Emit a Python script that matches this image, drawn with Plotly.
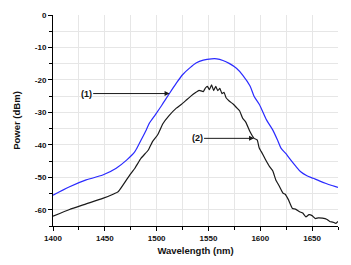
import plotly.graph_objects as go

# Curve (1) - blue
wl_1 = [1400, 1416, 1432, 1448, 1461, 1471, 1479, 1485, 1490, 1493, 1499, 1505, 1512.5,
        1519, 1525, 1532, 1538, 1545, 1553, 1558, 1564, 1570, 1577, 1583, 1590, 1594,
        1599, 1606, 1612, 1617, 1620, 1625, 1628, 1634, 1639, 1645, 1651, 1657, 1663.5,
        1670, 1675]
pw_1 = [-55.5, -52.9, -50.8, -49.3, -47.2, -44.7, -42.1, -38.5, -35.4, -33.3, -30.6, -27.8, -24.1,
        -21.0, -18.4, -16.3, -14.8, -13.9, -13.5, -13.5, -14.0, -14.9, -16.4, -18.5, -21.8, -25.0,
        -27.5, -32.3, -35.4, -38.8, -41.0, -42.8, -44.1, -46.5, -48.3, -49.5, -50.3, -51.1, -51.9,
        -52.6, -53.1]

# Curve (2) - black
wl_2 = [1400, 1416, 1432, 1448, 1458, 1463, 1467.5, 1474, 1479, 1485, 1492, 1496, 1501,
        1506, 1512, 1519, 1524, 1529, 1533, 1538, 1541, 1545, 1547, 1549, 1551, 1553,
        1555, 1557, 1559, 1561, 1563, 1565, 1567, 1570, 1574, 1577, 1580, 1583, 1586,
        1590, 1594, 1597, 1599, 1601, 1605, 1609, 1612, 1615, 1618, 1622, 1624, 1627,
        1631, 1634, 1638, 1641, 1644, 1647, 1650, 1653, 1656, 1660, 1664, 1667, 1670,
        1673, 1675]
pw_2 = [-62.0, -59.9, -58.2, -56.5, -55.2, -54.4, -52.4, -49.3, -47.2, -44.1, -41.6, -39.0, -36.9,
        -33.5, -31.0, -28.7, -27.5, -26.1, -25.0, -23.8, -23.2, -23.6, -22.5, -22.0, -23.0, -21.5,
        -23.3, -22.0, -23.3, -22.6, -24.2, -23.8, -25.5, -26.5, -27.5, -28.5, -29.5, -31.8, -33.0,
        -35.9, -38.0, -38.5, -41.0, -42.1, -44.5, -46.7, -48.0, -50.8, -52.5, -54.9, -55.2, -56.8,
        -59.6, -59.8, -60.6, -61.0, -62.2, -61.5, -61.8, -62.7, -62.5, -62.6, -62.9, -63.6, -63.8,
        -64.2, -63.6]

x_ticks = [1400, 1450, 1500, 1550, 1600, 1650]
y_ticks = [0, -10, -20, -30, -40, -50, -60]

FONT = "Liberation Sans, Arial, sans-serif"

fig = go.Figure()
fig.add_trace(go.Scatter(x=wl_1, y=pw_1, mode="lines",
                         line=dict(color="#2a2aff", width=1.2, shape="spline", smoothing=0.8),
                         showlegend=False))
fig.add_trace(go.Scatter(x=wl_2, y=pw_2, mode="lines",
                         line=dict(color="#1a1a1a", width=1.2, shape="spline", smoothing=0.4),
                         showlegend=False))

arrow_common = dict(xref="x", yref="y", axref="x", ayref="y", showarrow=True,
                    arrowhead=2, arrowsize=1, arrowwidth=1, arrowcolor="#1a1a1a",
                    font=dict(family=FONT, size=9, color="#111"))
fig.add_annotation(x=1512.5, y=-24.2, ax=1432, ay=-24.2, text="<b>(1)</b>", **arrow_common)
fig.add_annotation(x=1594, y=-38, ax=1539, ay=-38, text="<b>(2)</b>", **arrow_common)

# page body has a default 8px margin, so the figure is sized/offset to compensate
fig.update_layout(
    width=343, height=257,
    margin=dict(l=45, r=13, t=7, b=39),
    paper_bgcolor="white", plot_bgcolor="white",
    font=dict(family=FONT, size=8, color="#111"),
    xaxis=dict(
        range=[1400, 1675], tickmode="array", tickvals=x_ticks,
        ticktext=[f"<b>{v}</b>" for v in x_ticks],
        ticks="outside", ticklen=4, tickcolor="black", tickwidth=1,
        showline=True, linecolor="black", linewidth=1,
        showgrid=True, gridcolor="#e6e6e6", gridwidth=1,
        minor=dict(dtick=25, showgrid=True, gridcolor="#e6e6e6", ticks="outside",
                   ticklen=3, tickcolor="black"),
        zeroline=False, automargin=False,
        title=dict(text="<b>Wavelength (nm)</b>", font=dict(size=9.5), standoff=5),
        tickfont=dict(size=8),
    ),
    yaxis=dict(
        range=[-65, 0], tickmode="array", tickvals=y_ticks,
        ticktext=[f"<b>{v}</b>" for v in y_ticks],
        ticks="outside", ticklen=4, tickcolor="black", tickwidth=1,
        showline=True, linecolor="black", linewidth=1,
        showgrid=True, gridcolor="#e6e6e6", gridwidth=1,
        minor=dict(dtick=5, tick0=0, showgrid=True, gridcolor="#e6e6e6", ticks="outside",
                   ticklen=3, tickcolor="black"),
        zeroline=False, automargin=False,
        title=dict(text="<b>Power (dBm)</b>", font=dict(size=9.5), standoff=12),
        tickfont=dict(size=8),
    ),
)

fig.write_html("out.html")
